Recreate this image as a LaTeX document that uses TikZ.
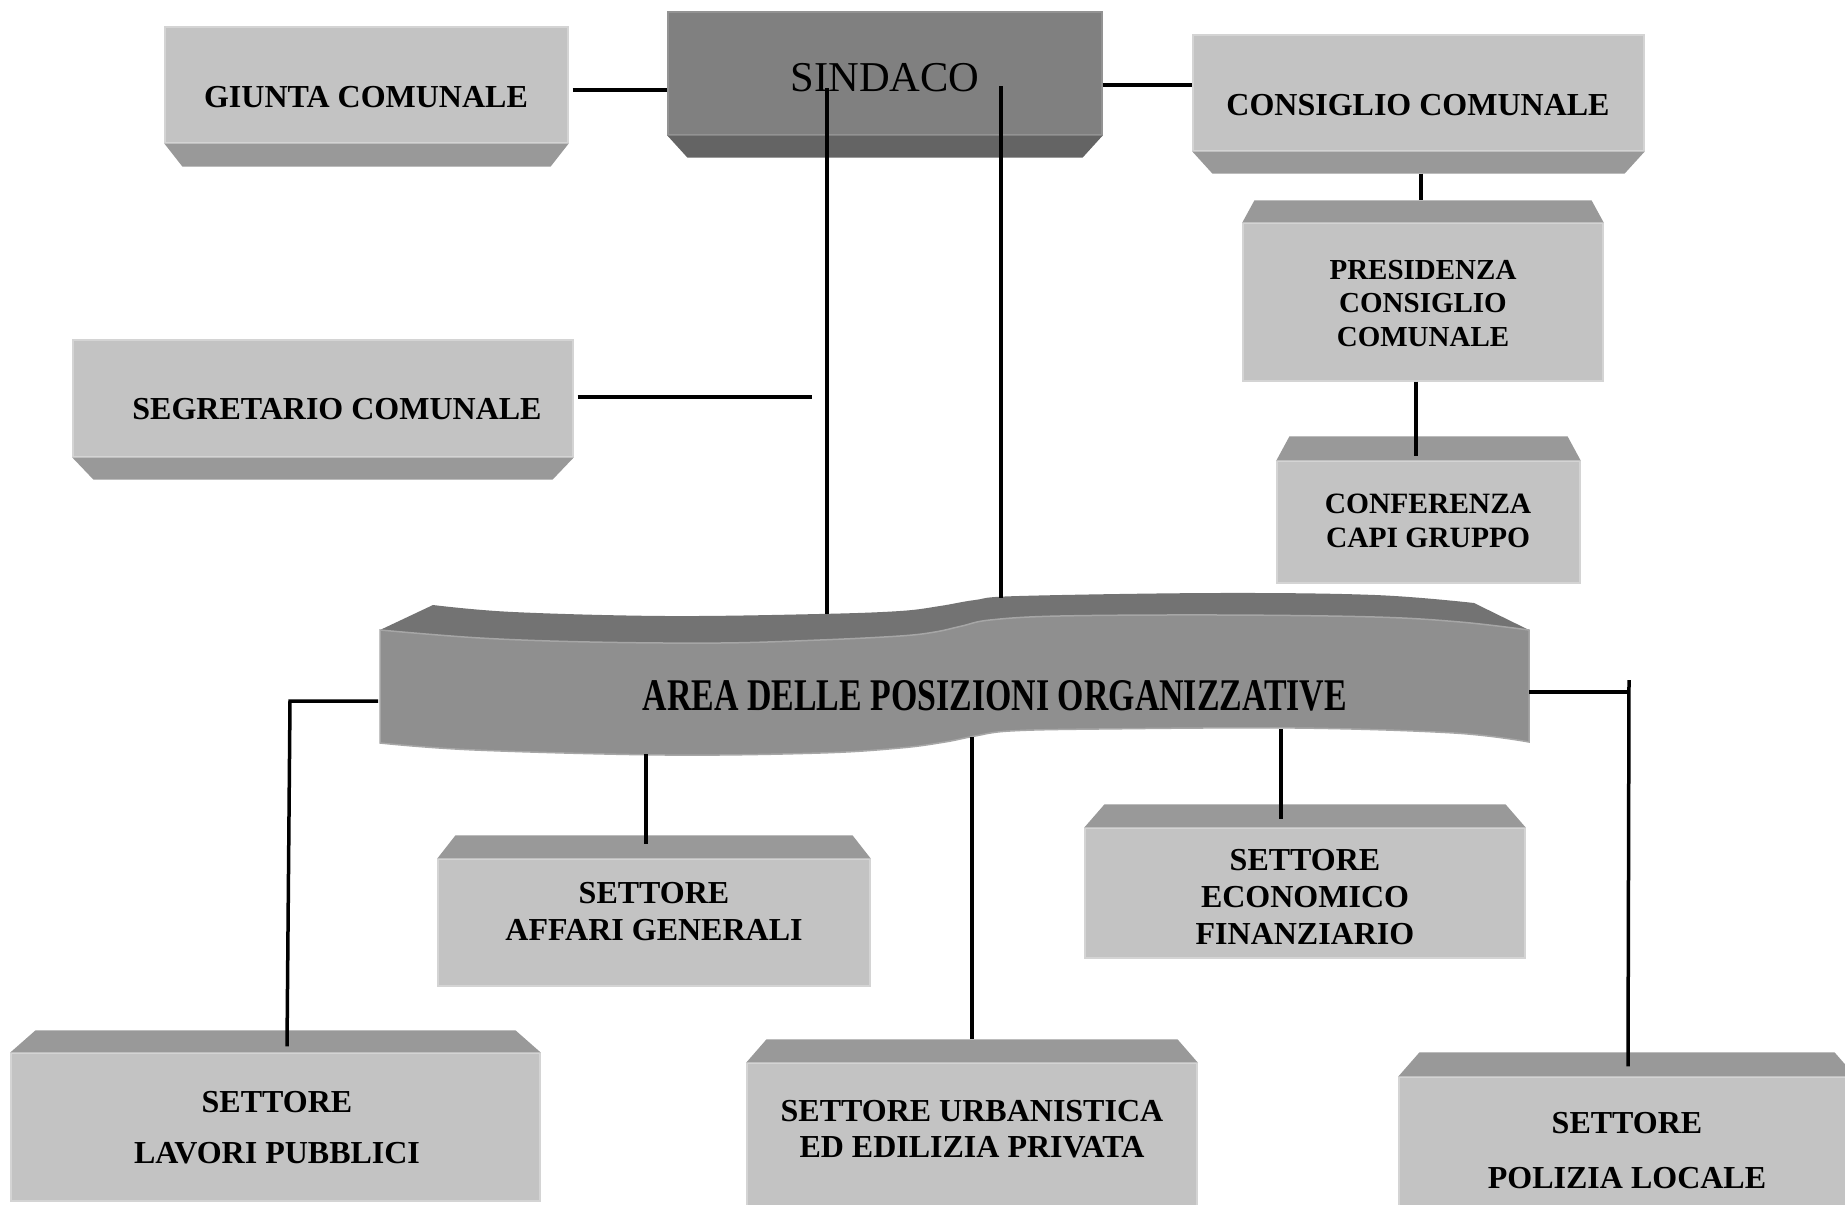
\documentclass[tikz,border=0pt]{standalone}
\usepackage{fontspec}
\setmainfont{Liberation Serif}
\usepackage{graphicx}

\definecolor{facegray}{HTML}{C3C3C3}
\definecolor{bevelgray}{HTML}{999999}
\definecolor{edgegray}{HTML}{D4D4D4}
\definecolor{sindface}{HTML}{808080}
\definecolor{sindbevel}{HTML}{646464}
\definecolor{areaface}{HTML}{8F8F8F}
\definecolor{areabevel}{HTML}{737373}
\definecolor{areaedge}{HTML}{A6A6A6}

% slanted strip under / over a box: node, inset, depth, colour
\newcommand\bevelbelow[4]{\fill[#4] (#1.south west) -- (#1.south east) -- ++(-#2,#3) -- ([shift={(#2,#3)}]#1.south west) -- cycle;}
\newcommand\bevelabove[4]{\fill[#4] (#1.north west) -- (#1.north east) -- ++(-#2,-#3) -- ([shift={(#2,-#3)}]#1.north west) -- cycle;}

\begin{document}
\begin{tikzpicture}[x=1pt,y=-1pt,
  panel/.style={rectangle, fill=facegray, draw=edgegray, line width=1.2pt, inner sep=0pt},
  boxtext/.style={inner sep=0pt, anchor=north, align=center, text=black,
    font=\bfseries\fontsize{32pt}{37pt}\selectfont},
  wire/.style={line width=3.5pt, black}]

\useasboundingbox (0,0) rectangle (1845,1205);
\fill[white] (0,0) rectangle (1845,1205);
\clip (0,0) rectangle (1845,1205);

% ---- boxes: front faces
\node[panel, fill=sindface, draw=sindface!85!white, minimum width=434pt, minimum height=123pt] (sindaco) at (885,73.5) {};
\node[panel, minimum width=403pt, minimum height=116pt] (giunta) at (366.5,85) {};
\node[panel, minimum width=451pt, minimum height=116pt] (consiglio) at (1418.5,93) {};
\node[panel, minimum width=360pt, minimum height=158pt] (presidenza) at (1423,302) {};
\node[panel, minimum width=303pt, minimum height=122pt] (conferenza) at (1428.5,522) {};
\node[panel, minimum width=500pt, minimum height=117pt] (segretario) at (323,398.5) {};
\node[panel, minimum width=432pt, minimum height=127pt] (affari) at (654,922.5) {};
\node[panel, minimum width=440pt, minimum height=130pt] (economico) at (1305,893) {};
\node[panel, minimum width=450pt, minimum height=147pt] (urbanistica) at (972,1136.5) {};
\node[panel, minimum width=529pt, minimum height=148pt] (lavori) at (275.5,1127) {};
\node[panel, minimum width=456pt, minimum height=138pt] (polizia) at (1627,1146) {};

% ---- boxes: slanted strips
\bevelbelow{sindaco}{20}{22}{sindbevel}
\bevelbelow{giunta}{18}{23}{bevelgray}
\bevelbelow{consiglio}{20}{22}{bevelgray}
\bevelbelow{segretario}{21}{22}{bevelgray}
\bevelabove{presidenza}{12}{22}{bevelgray}
\bevelabove{conferenza}{13}{24}{bevelgray}
\bevelabove{affari}{18}{23}{bevelgray}
\bevelabove{economico}{20}{23}{bevelgray}
\bevelabove{urbanistica}{20}{23}{bevelgray}
\bevelabove{lavori}{25}{22}{bevelgray}
\bevelabove{polizia}{21}{24}{bevelgray}

% ---- curved band of the organisational area
\fill[areabevel] plot[smooth, tension=0.6] coordinates {(380,630) (480,638) (590,642) (720,643) (820,640) (900,636) (935,632) (962,626) (990,620) (1060,616) (1220,615) (1375,617) (1460,622) (1529,630)}
  -- (1474,603)
  -- plot[smooth, tension=0.6] coordinates {(1474,603) (1375,595) (1217,593) (1019,596) (975,600) (940,606) (900,611) (819,614) (666,616) (513,612) (433,605)}
  -- cycle;
\filldraw[fill=areaface, draw=areaedge, line width=1.5pt]
  plot[smooth, tension=0.6] coordinates {(380,630) (480,638) (590,642) (720,643) (820,640) (900,636) (935,632) (962,626) (990,620) (1060,616) (1220,615) (1375,617) (1460,622) (1529,630)}
  -- plot[smooth, tension=0.6] coordinates {(1529,742) (1454,733) (1296,728) (1098,729) (1010,731) (975,736) (945,742) (900,748) (820,753) (666,755) (475,750) (380,743)}
  -- cycle;
\node[inner sep=0pt, anchor=north] (area) at (995,680)
  {\resizebox{704pt}{30pt}{\bfseries AREA DELLE POSIZIONI ORGANIZZATIVE}};

% ---- texts
\node[boxtext, font=\fontsize{42.5pt}{48pt}\selectfont] (sindacoT) at (885,63) {SINDACO};
\node[boxtext] (giuntaT) at (366,86) {GIUNTA COMUNALE};
\node[boxtext] (consiglioT) at (1418,94) {CONSIGLIO COMUNALE};
\node[boxtext, font=\bfseries\fontsize{29pt}{33.5pt}\selectfont] (presidenzaT) at (1423,260) {PRESIDENZA\\CONSIGLIO\\COMUNALE};
\node[boxtext, font=\bfseries\fontsize{29.5pt}{34pt}\selectfont] (conferenzaT) at (1428,494) {CONFERENZA\\CAPI GRUPPO};
\node[boxtext] (segretarioT) at (337,398) {SEGRETARIO COMUNALE};
\node[boxtext] (affariT) at (654,882) {SETTORE\\AFFARI GENERALI};
\node[boxtext] (economicoT) at (1305,849) {SETTORE\\ECONOMICO\\FINANZIARIO};
\node[boxtext, font=\bfseries\fontsize{32pt}{36pt}\selectfont] (urbanisticaT) at (972,1100) {SETTORE URBANISTICA\\ED EDILIZIA PRIVATA};
\node[boxtext, font=\bfseries\fontsize{32pt}{51pt}\selectfont] (lavoriT) at (277,1091) {SETTORE\\LAVORI PUBBLICI};
\node[boxtext, font=\bfseries\fontsize{32pt}{55pt}\selectfont] (poliziaT) at (1627,1112) {SETTORE\\POLIZIA LOCALE};

% ---- connector end points on the band and inside the mayor box
\coordinate (sinA) at (827,88);
\coordinate (sinB) at (1001,86);
\coordinate (areaTopA) at (827,614);
\coordinate (areaTopB) at (1001,598);
\coordinate (areaWest) at (378,701);
\coordinate (areaEast) at (1529,692);
\coordinate (areaSouthA) at (646,754);
\coordinate (areaSouthB) at (972,737);
\coordinate (areaSouthC) at (1281,729);
\coordinate (segEnd) at (812,397);
\coordinate (polJoin) at (1629,692);

% ---- connectors
\coordinate (gjoin) at ([shift={(4,5)}]giunta.east);
\draw[wire] (gjoin) -- (gjoin -| sindaco.west);
\coordinate (cjoin) at ([shift={(0,11.5)}]sindaco.east);
\draw[wire] (cjoin) -- (cjoin -| consiglio.west);
\draw[wire] ([shift={(2.5,22)}]consiglio.south) -- ([shift={(-2,-22)}]presidenza.north);
\draw[wire] ([shift={(-7,0)}]presidenza.south) -- ([shift={(-12.5,-4)}]conferenza.north);
\draw[wire] ([shift={(4,-1.5)}]segretario.east) -- (segEnd);
\draw[wire] (sinA) -- (areaTopA);
\draw[wire] (sinB) -- (areaTopB);
\draw[wire] (areaWest) -- ++(-88,0) -- ([shift={(11.5,-6)}]lavori.north);
\draw[wire] (areaSouthA) -- ([shift={(-8,-14)}]affari.north);
\draw[wire] (areaSouthB) -- ([shift={(0,-23)}]urbanistica.north);
\draw[wire] (areaSouthC) -- ([shift={(-24,-8)}]economico.north);
\draw[wire] (areaEast) -- (polJoin);
\draw[wire] ([shift={(0,-12)}]polJoin) -- ([shift={(1,-10)}]polizia.north);

\end{tikzpicture}
\end{document}
